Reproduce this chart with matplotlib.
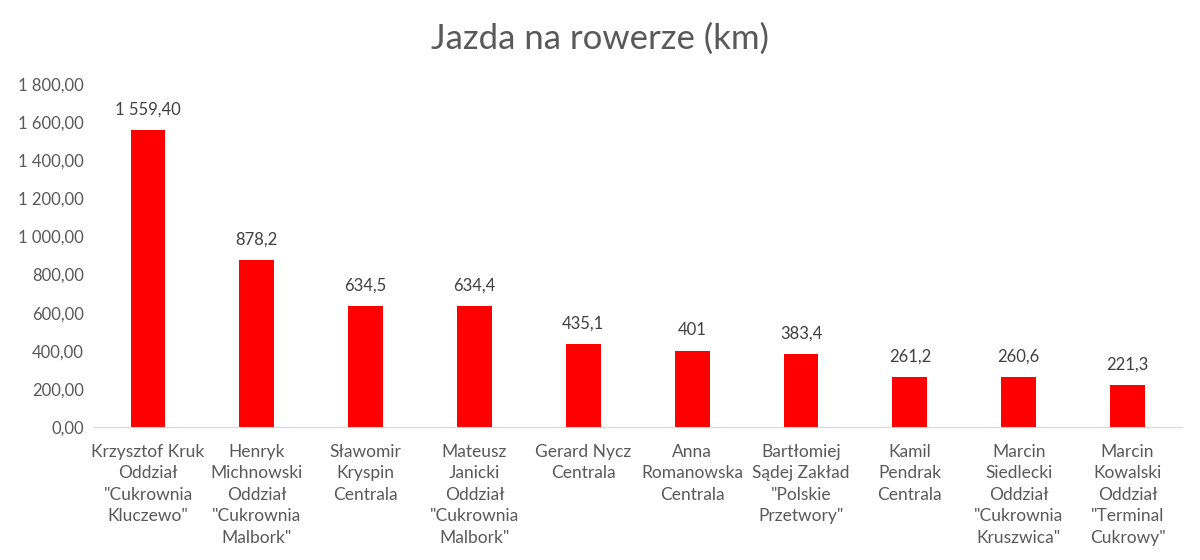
import matplotlib.pyplot as plt
from matplotlib.ticker import FuncFormatter

# Data
names = [
    'Krzysztof Kruk\nOddział\n"Cukrownia\nKluczewo"',
    'Henryk\nMichnowski\nOddział\n"Cukrownia\nMalbork"',
    'Sławomir\nKryspin\nCentrala',
    'Mateusz\nJanicki\nOddział\n"Cukrownia\nMalbork"',
    'Gerard Nycz\nCentrala',
    'Anna\nRomanowska\nCentrala',
    'Bartłomiej\nSądej Zakład\n"Polskie\nPrzetwory"',
    'Kamil\nPendrak\nCentrala',
    'Marcin\nSiedlecki\nOddział\n"Cukrownia\nKruszwica"',
    'Marcin\nKowalski\nOddział\n"Terminal\nCukrowy"',
]
km = [1559.4, 878.2, 634.5, 634.4, 435.1, 401, 383.4, 261.2, 260.6, 221.3]
value_labels = ['1 559,40', '878,2', '634,5', '634,4', '435,1', '401',
                '383,4', '261,2', '260,6', '221,3']

plt.rcParams['font.family'] = ['Lato', 'DejaVu Sans']
txt = '#595959'

fig = plt.figure(figsize=(12, 5.6), dpi=100)
ax = fig.add_axes([0.078, 0.2375, 0.907, 0.6125])

x = range(len(km))
bars = ax.bar(x, km, width=0.32, color='#ff0000')

for b, lab in zip(bars, value_labels):
    ax.annotate(lab, (b.get_x() + b.get_width() / 2, b.get_height()),
                xytext=(0, 9), textcoords='offset points',
                ha='center', va='bottom', fontsize=12, color='#404040')

ax.set_xlim(-0.5, len(km) - 0.5)
ax.set_ylim(0, 1800)
ax.set_yticks(range(0, 1801, 200))


def fmt(v, pos):
    s = f'{v:,.2f}'
    return s.replace(',', ' ').replace('.', ',')


ax.yaxis.set_major_formatter(FuncFormatter(fmt))
ax.set_xticks(list(x))
ax.set_xticklabels(names, fontsize=12.5, color=txt, linespacing=1.42)
ax.tick_params(axis='y', labelsize=12, labelcolor=txt, length=0, pad=7)
ax.tick_params(axis='x', length=0, pad=12)

for s in ['top', 'right', 'left']:
    ax.spines[s].set_visible(False)
ax.spines['bottom'].set_color('#d9d9d9')

fig.text(0.5, 0.93, 'Jazda na rowerze (km)', ha='center', va='center',
         fontsize=25, color=txt)

fig.savefig('out.png', dpi=100)
